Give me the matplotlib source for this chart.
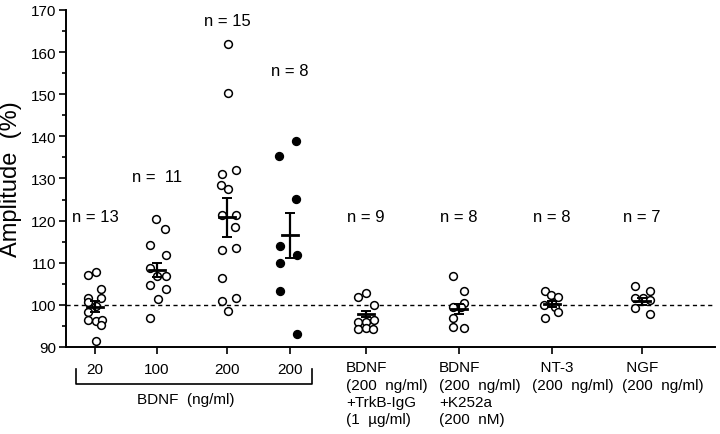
import numpy as np
import matplotlib
matplotlib.use("Agg")
import matplotlib.pyplot as plt
import matplotlib.transforms as mtransforms

plt.rcParams['font.family'] = ['Liberation Sans', 'DejaVu Sans']

# values (amplitude, % of control)
g1 = [107.2, 107.8, 103.8, 101.6, 100.7, 101.6, 98.2, 96.4, 96.2, 96.4, 95.2, 91.5, 99.8]
g2 = [120.4, 118.0, 114.1, 111.9, 108.7, 106.9, 106.9, 104.6, 103.8, 101.4, 96.9]
g3 = [161.9, 150.2, 131.0, 131.9, 128.4, 127.4, 121.4, 121.4, 118.5, 113.1, 113.5,
      106.4, 101.0, 101.7, 98.6]
g4 = [138.9, 135.3, 125.2, 113.9, 111.9, 109.9, 103.2, 93.2]
g5 = [101.8, 102.9, 100.0, 96.0, 96.0, 96.4, 94.3, 94.4, 94.3]
g6 = [106.9, 103.3, 100.4, 99.6, 99.6, 96.8, 94.8, 94.4]
g7 = [103.4, 102.4, 101.8, 100.0, 100.4, 99.4, 98.4, 97.0]
g8 = [104.5, 103.3, 101.6, 101.6, 101.2, 99.2, 97.8]
groups = [g1, g2, g3, g4, g5, g6, g7, g8]

means = [99.6, 108.2, 120.8, 116.5, 97.8, 99.0, 100.3, 100.8]
sems = [1.3, 1.7, 4.6, 5.3, 0.7, 1.2, 0.7, 0.9]
n_labels = ["n = 13", "n =  11", "n = 15", "n = 8", "n = 9", "n = 8", "n = 8", "n = 7"]
filled = [False, False, False, True, False, False, False, False]
dose_labels = ["20", "100", "200", "200"]
cond_labels = ["BDNF\n(200  ng/ml)\n+TrkB-IgG\n(1  \u00b5g/ml)",
               "BDNF\n(200  ng/ml)\n+K252a\n(200  nM)",
               "  NT-3\n(200  ng/ml)",
               " NGF\n(200  ng/ml)"]

# layout: group centres and horizontal scatter (px / 65)
pos = [1.0, 1.95, 3.03, 4.0, 5.17, 6.6, 8.03, 9.42]
jit = [[-7, 1, 6, -7, -7, 6, -7, -7, 1, 7, 6, 1, 1],
       [-1, 8, -7, 9, -7, 0, 9, -7, 9, 1, -7],
       [1, 1, -5, 9, -6, 1, -5, 9, 8, -5, 9, -5, -5, 9, 1],
       [6, -11, 6, -10, 7, -10, -10, 7],
       [-8, 0, 8, -8, 0, 8, -8, 0, 7],
       [-6, 5, 5, -6, 2, -6, -6, 5],
       [-7, -1, 6, -8, 0, 3, 6, -7],
       [-7, 8, -7, 1, 8, -7, 8]]
n_y = [121, 130.5, 167.4, 155.5, 121, 121, 121, 121]

fig = plt.figure(figsize=(7.2, 4.35), dpi=100)
ax = fig.add_axes([0.0917, 0.2, 0.9013, 0.775])

for i, vals in enumerate(groups):
    x = pos[i] + np.array(jit[i]) / 65.0
    ax.plot(x, vals, 'o', ms=5.6, mfc='black' if filled[i] else 'white',
            mec='black', mew=1.1, zorder=3)
    ax.errorbar(pos[i], means[i], yerr=sems[i], fmt='none', ecolor='black',
                elinewidth=1.6, capsize=3.5, capthick=1.4, zorder=4)
    ax.plot([pos[i] - 0.12, pos[i] + 0.12], [means[i], means[i]], color='black',
            lw=2.0, zorder=4)
    ax.text(pos[i], n_y[i], n_labels[i], ha='center', va='center', fontsize=12)

ax.axhline(100, color='black', lw=1.0, ls=(0, (3, 2.5)), zorder=1)

ax.set_xlim(0.554, 10.54)
ax.set_ylim(90, 170)
ax.set_yticks(np.arange(90, 171, 10))
ax.set_yticks(np.arange(95, 170, 10), minor=True)
ax.set_xticks(pos)
ax.set_xticklabels(dose_labels + [""] * 4, fontsize=11)
ax.tick_params(axis='y', labelsize=11, length=5, width=1.2, pad=2)
ax.tick_params(axis='y', which='minor', length=3, width=1.2)
ax.tick_params(axis='x', length=5, width=1.2, pad=6)
for s in ['top', 'right']:
    ax.spines[s].set_visible(False)
for s in ['left', 'bottom']:
    ax.spines[s].set_linewidth(1.4)

ax.set_ylabel("Amplitude  (%)", fontsize=17, labelpad=6)

trans = mtransforms.blended_transform_factory(ax.transData, ax.transAxes)
for i, lab in enumerate(cond_labels):
    ax.text(pos[i + 4] - 20 / 65.0, -0.04, lab, transform=trans, ha='left', va='top',
            fontsize=11, linespacing=1.3)

# bracket under the BDNF dose groups
ax.plot([0.71, 0.71, 4.34, 4.34], [-0.065, -0.11, -0.11, -0.065], transform=trans,
        color='black', lw=1.2, clip_on=False)
ax.text(2.4, -0.155, "BDNF  (ng/ml)", transform=trans, ha='center', va='center',
        fontsize=11)

fig.savefig("out.png", dpi=100)
